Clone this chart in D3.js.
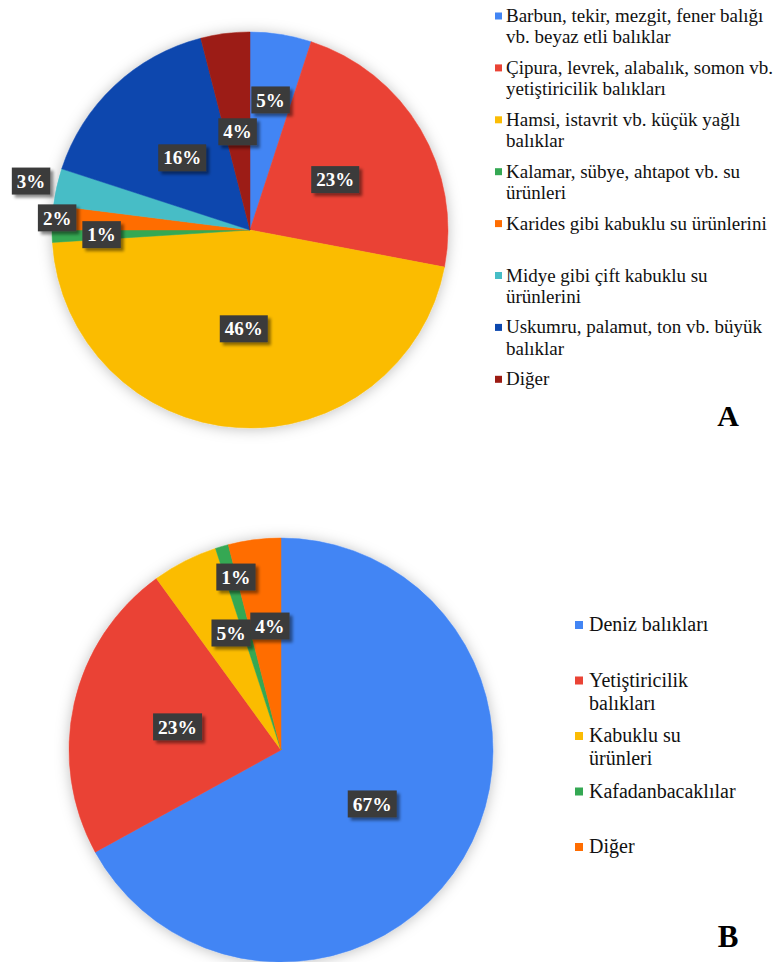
<!DOCTYPE html>
<html>
<head>
<meta charset="utf-8">
<script src="https://cdn.jsdelivr.net/npm/d3@7"></script>
<style>
  html, body { margin: 0; padding: 0; background: #ffffff; }
  svg { display: block; }
</style>
</head>
<body>
<svg id="chart" width="782" height="962"></svg>
<script>
// Panel A: consumption by fish / seafood type
const categoriesA = [
  "Barbun, tekir, mezgit, fener balığı vb. beyaz etli balıklar",
  "Çipura, levrek, alabalık, somon vb. yetiştiricilik balıkları",
  "Hamsi, istavrit vb. küçük yağlı balıklar",
  "Kalamar, sübye, ahtapot vb. su ürünleri",
  "Karides gibi kabuklu su ürünlerini",
  "Midye gibi çift kabuklu su ürünlerini",
  "Uskumru, palamut, ton vb. büyük balıklar",
  "Diğer"
];
const valuesA = [5, 23, 46, 1, 2, 3, 16, 4];
const colorsA = ["#4285F4", "#EA4335", "#FBBC04", "#34A853", "#FF6D01", "#46BDC6", "#0C47AE", "#9C1B13"];

// Panel B: consumption by product group
const categoriesB = [
  "Deniz balıkları",
  "Yetiştiricilik balıkları",
  "Kabuklu su ürünleri",
  "Kafadanbacaklılar",
  "Diğer"
];
const valuesB = [67, 23, 5, 1, 4];
const colorsB = ["#4285F4", "#EA4335", "#FBBC04", "#34A853", "#FF6D01"];

// Label placement (fraction of radius, angular nudge in degrees)
const labelRadiusA = [0.665, 0.5, 0.5, 0.75, 0.976, 1.133, 0.5, 0.5];
const labelNudgeA  = [0, 0, 0, 0, 0, 0, 0, 0];
const labelRadiusB = [0.5, 0.5, 0.6, 0.843, 0.587];
const labelNudgeB  = [0, 0, 3.9, 1.6, 2.1];

const svg = d3.select("#chart");
const defs = svg.append("defs");

const pieShadow = defs.append("filter").attr("id", "pieShadow")
  .attr("x", "-20%").attr("y", "-20%").attr("width", "140%").attr("height", "140%");
pieShadow.append("feDropShadow")
  .attr("dx", 0).attr("dy", 1).attr("stdDeviation", 7)
  .attr("flood-color", "#000").attr("flood-opacity", 0.25);

const boxShadow = defs.append("filter").attr("id", "boxShadow")
  .attr("x", "-30%").attr("y", "-30%").attr("width", "170%").attr("height", "180%");
boxShadow.append("feDropShadow")
  .attr("dx", 3).attr("dy", 3).attr("stdDeviation", 1.8)
  .attr("flood-color", "#000").attr("flood-opacity", 0.45);

const serif = "'Liberation Serif', 'Times New Roman', Times, serif";

function drawPie(cfg) {
  const g = svg.append("g").attr("transform", `translate(${cfg.cx},${cfg.cy})`);
  const pie = d3.pie().sort(null).value(d => d);
  const arcs = pie(cfg.values);
  const arc = d3.arc().innerRadius(0).outerRadius(cfg.r);
  const color = d3.scaleOrdinal().domain(d3.range(cfg.values.length)).range(cfg.colors);

  g.append("g").attr("filter", "url(#pieShadow)")
    .selectAll("path").data(arcs).join("path")
      .attr("d", arc)
      .attr("fill", (d, i) => color(i))
      .attr("stroke", (d, i) => color(i))
      .attr("stroke-width", 0.5);

  const labels = g.append("g").selectAll("g.lbl").data(arcs).join("g").attr("class", "lbl")
    .attr("transform", (d, i) => {
      const mid = (d.startAngle + d.endAngle) / 2 + cfg.nudge[i] * Math.PI / 180;
      const rr = cfg.labelRadius[i] * cfg.r;
      return `translate(${Math.sin(mid) * rr},${-Math.cos(mid) * rr})`;
    });

  const texts = labels.append("text")
    .attr("text-anchor", "middle")
    .attr("dy", "0.35em")
    .attr("font-family", serif)
    .attr("font-weight", "bold")
    .attr("font-size", cfg.labelSize)
    .attr("fill", "#ffffff")
    .text(d => d.data + "%");

  texts.each(function () {
    const bb = this.getBBox();
    const padX = 5, h = 27;
    d3.select(this.parentNode).insert("rect", "text")
      .attr("x", bb.x - padX)
      .attr("y", -h / 2)
      .attr("width", bb.width + padX * 2)
      .attr("height", h)
      .attr("fill", "#3b3b3b")
      .attr("filter", "url(#boxShadow)");
  });
}

function wrapWords(textSel, str, maxWidth, lineHeight) {
  const words = str.split(" ");
  let line = [];
  let tspan = textSel.append("tspan").attr("x", 0).attr("dy", 0);
  words.forEach(w => {
    line.push(w);
    tspan.text(line.join(" "));
    if (tspan.node().getComputedTextLength() > maxWidth && line.length > 1) {
      line.pop();
      tspan.text(line.join(" "));
      line = [w];
      tspan = textSel.append("tspan").attr("x", 0).attr("dy", lineHeight).text(w);
    }
  });
}

function drawLegend(cfg) {
  const g = svg.append("g").attr("transform", `translate(${cfg.x},${cfg.y})`);
  const items = g.selectAll("g.item").data(cfg.categories).join("g").attr("class", "item")
    .attr("transform", (d, i) => `translate(0,${i * cfg.step})`);
  items.append("rect")
    .attr("x", 0).attr("y", -cfg.markerSize - cfg.markerLift)
    .attr("width", cfg.markerSize).attr("height", cfg.markerSize)
    .attr("fill", (d, i) => cfg.colors[i]);
  items.append("text")
    .attr("transform", `translate(${cfg.textGap},0)`)
    .attr("font-family", serif)
    .attr("font-size", cfg.fontSize)
    .attr("fill", "#111111")
    .each(function (d) { wrapWords(d3.select(this), d, cfg.wrap, cfg.lineHeight); });
}

drawPie({ cx: 250, cy: 230, r: 198, values: valuesA, colors: colorsA,
          labelRadius: labelRadiusA, nudge: labelNudgeA, labelSize: 19 });
drawPie({ cx: 281, cy: 750, r: 212, values: valuesB, colors: colorsB,
          labelRadius: labelRadiusB, nudge: labelNudgeB, labelSize: 19.5 });

drawLegend({ x: 495, y: 22, step: 51.9, categories: categoriesA, colors: colorsA,
             markerSize: 7, markerLift: 2.5, textGap: 11, fontSize: 19, lineHeight: 21.3, wrap: 272 });
drawLegend({ x: 575, y: 631, step: 55.5, categories: categoriesB, colors: colorsB,
             markerSize: 8, markerLift: 2, textGap: 14, fontSize: 20, lineHeight: 23.3, wrap: 154 });

svg.append("text").attr("x", 728).attr("y", 426)
  .attr("text-anchor", "middle").attr("font-family", serif)
  .attr("font-weight", "bold").attr("font-size", 30).attr("fill", "#000").text("A");
svg.append("text").attr("x", 728).attr("y", 947)
  .attr("text-anchor", "middle").attr("font-family", serif)
  .attr("font-weight", "bold").attr("font-size", 31).attr("fill", "#000").text("B");
</script>
</body>
</html>
